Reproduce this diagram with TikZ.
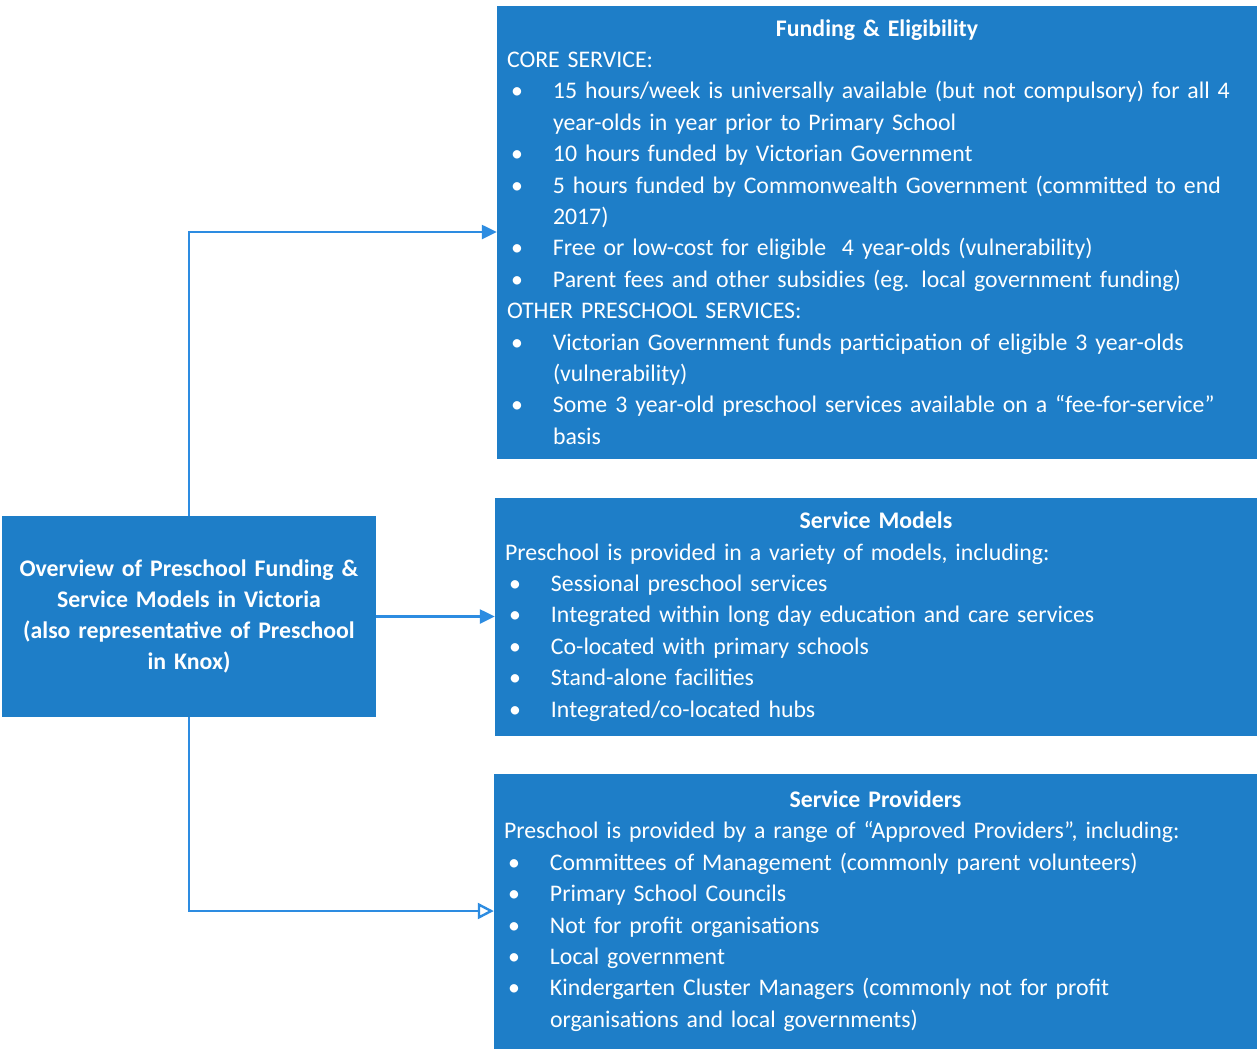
\documentclass[tikz,border=0pt]{standalone}
\usepackage{fontspec}
\setmainfont{Carlito}
\usetikzlibrary{arrows.meta}
\definecolor{boxblue}{RGB}{30,126,200}
\definecolor{lineblue}{RGB}{45,140,225}
\newcommand{\bl}[1]{\noindent\hspace*{4pt}\makebox[42pt][l]{•}\mbox{#1}\par}
\newcommand{\cl}[1]{\noindent\hspace*{46pt}\mbox{#1}\par}
\newcommand{\hl}[1]{\noindent\mbox{#1}\par}
\newcommand{\ttl}[1]{{\centering\bfseries #1\par}}
\tikzset{
  infobox/.style={draw=none, fill=boxblue, text=white, align=left, inner xsep=10pt, inner ysep=0pt,
    font=\fontsize{23.8}{31.4}\selectfont},
  mainbox/.style={draw=none, fill=boxblue, text=white, align=center, inner sep=0pt,
    font=\fontsize{23.8}{31}\selectfont\bfseries},
  conn/.style={draw=lineblue, line width=2.4pt, -{Triangle[length=15pt,width=14pt]}},
  connopen/.style={draw=lineblue, line width=2.4pt, -{Triangle[open,length=16pt,width=16pt,line width=2.4pt]}}
}
\begin{document}
\begin{tikzpicture}[x=1pt,y=-1pt]
\useasboundingbox[fill=white] (0,0) rectangle (1257,1050);
\node[mainbox, minimum width=374pt, minimum height=201pt, text width=370pt] (main) at (189,616.5)
  {Overview of Preschool Funding \&\\ Service Models in Victoria\\ (also representative of Preschool\\ in Knox)};
\node[infobox, minimum width=760pt, minimum height=453pt, text width=740pt] (fund) at (877,232) {%
\ttl{Funding \& Eligibility}
\hl{CORE SERVICE:}
\bl{15 hours/week is universally available (but not compulsory) for all 4}
\cl{year-olds in year prior to Primary School}
\bl{10 hours funded by Victorian Government}
\bl{5 hours funded by Commonwealth Government (committed to end}
\cl{2017)}
\bl{Free or low-cost for eligible\ \ 4 year-olds (vulnerability)}
\bl{Parent fees and other subsidies (eg. local government funding)}
\hl{OTHER PRESCHOOL SERVICES:}
\bl{Victorian Government funds participation of eligible 3 year-olds}
\cl{(vulnerability)}
\bl{Some 3 year-old preschool services available on a “fee-for-service”}
\cl{basis}};
\node[infobox, minimum width=762pt, minimum height=238pt, text width=742pt] (models) at (876,616.5) {%
\ttl{Service Models}
\hl{Preschool is provided in a variety of models, including:}
\bl{Sessional preschool services}
\bl{Integrated within long day education and care services}
\bl{Co-located with primary schools}
\bl{Stand-alone facilities}
\bl{Integrated/co-located hubs}};
\node[infobox, minimum width=763pt, minimum height=275pt, text width=743pt] (prov) at (875.5,911) {%
\ttl{Service Providers}
\hl{Preschool is provided by a range of “Approved Providers”, including:}
\bl{Committees of Management (commonly parent volunteers)}
\bl{Primary School Councils}
\bl{Not for profit organisations}
\bl{Local government}
\bl{Kindergarten Cluster Managers (commonly not for profit}
\cl{organisations and local governments)}};
\draw[conn] (main.north) |- (fund.west);
\draw[conn] (main.east) -- (models.west);
\draw[connopen] (main.south) |- (prov.west);
\end{tikzpicture}
\end{document}
